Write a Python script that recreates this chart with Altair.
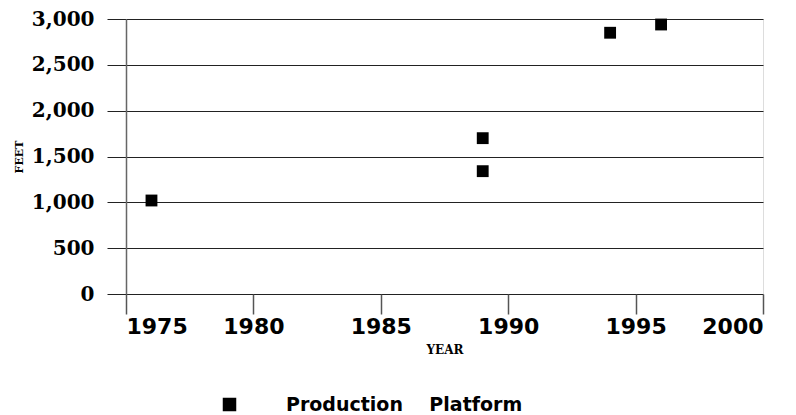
import altair as alt
import pandas as pd

years = [1976, 1989, 1989, 1994, 1996]
depths = [1020, 1700, 1340, 2850, 2940]
series = ["Production\u00a0\u00a0\u00a0\u00a0Platform"] * 5

df = pd.DataFrame({"YEAR": years, "FEET": depths, "Type": series})

chart = alt.Chart(df).mark_square(size=140, opacity=1, color="black").encode(
    x=alt.X("YEAR:Q",
            scale=alt.Scale(domain=[1975, 2000], nice=False, zero=False),
            axis=alt.Axis(values=[1975, 1980, 1985, 1990, 1995, 2000], format="d",
                          grid=False, domain=False, tickSize=20, tickColor="#555",
                          tickWidth=1.5, labelFont="DejaVu Sans", labelFontWeight="bold",
                          labelFontSize=22, labelColor="black", labelPadding=2,
                          title="YEAR", titleFont="DejaVu Serif", titleFontWeight="bold",
                          titleFontSize=12, titlePadding=7, titleColor="black")),
    y=alt.Y("FEET:Q",
            scale=alt.Scale(domain=[0, 3000], nice=False),
            axis=alt.Axis(values=[0, 500, 1000, 1500, 2000, 2500, 3000], format=",d",
                          grid=True, gridColor="#222", gridWidth=1, gridOpacity=1,
                          domain=True, domainColor="#666", domainWidth=1.5,
                          tickSize=19, tickColor="#222", tickWidth=1,
                          labelFont="DejaVu Serif", labelFontWeight="bold",
                          labelFontSize=20, labelColor="black", labelPadding=13,
                          title="FEET", titleFont="DejaVu Serif", titleFontWeight="bold",
                          titleFontSize=11, titlePadding=7, titleColor="black")),
    color=alt.Color("Type:N", scale=alt.Scale(range=["black"]),
                    legend=alt.Legend(title=None, orient="none", legendX=94, legendY=376,
                                      padding=0,
                                      symbolType="square", symbolSize=144,
                                      symbolFillColor="black", symbolStrokeColor="black",
                                      labelFont="DejaVu Sans", labelFontWeight="bold",
                                      labelFontSize=19, labelColor="black",
                                      labelOffset=47, labelLimit=500)),
).properties(
    width=637, height=275,
    padding={"left": 5, "top": 1, "right": 5, "bottom": 0},
).configure_view(stroke=None).configure(background="white")

chart.save("out.html", embed_options={"renderer": "svg", "actions": False})
